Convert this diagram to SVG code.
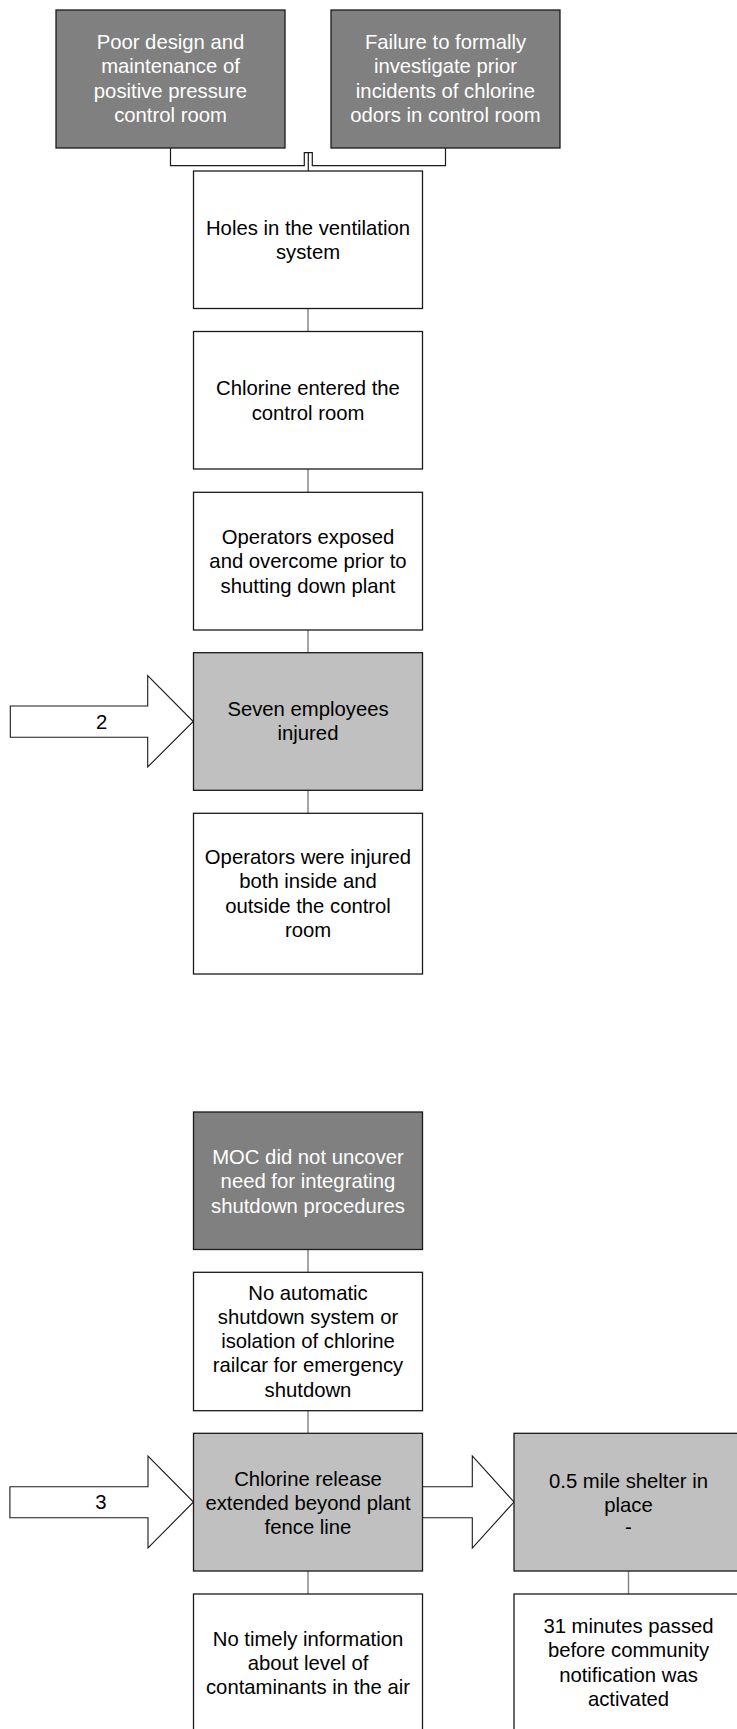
<svg xmlns="http://www.w3.org/2000/svg" width="737" height="1729" viewBox="0 0 737 1729">
<style>
.box{stroke:#1a1a1a;stroke-width:1.3}
.w{fill:#ffffff}
.d{fill:#808080}
.g{fill:#c0c0c0}
.t{font-family:"Liberation Sans",Arial,sans-serif;font-size:20.3px;text-anchor:middle;fill:#000}
.tw{fill:#ffffff}
.c{stroke:#808080;stroke-width:1.4;fill:none}
.ck{stroke:#1a1a1a;stroke-width:1.2;fill:none}
.arr{fill:#ffffff;stroke:#1a1a1a;stroke-width:1.1}
</style>
<rect width="737" height="1729" fill="#ffffff"/>
<g id="connectors">
<path class="ck" d="M170.5 148 V165.7 H304.3 V152.7 H312.3 V165.7 H445.5 V148"/>
<path class="ck" d="M308.3 152.7 V171"/>
<path class="c" d="M308 308.5 V331.5 M308 469 V492.3 M308 630 V652.7 M308 790.3 V813.3 M308 1249.5 V1272.3 M308 1410.7 V1433.3 M308 1571 V1594 M628.5 1571 V1594"/>
<polygon id="arrow2" class="arr" points="10.3,706 147.7,706 147.7,675.7 193.3,721.5 147.7,767 147.7,737.3 10.3,737.3"/>
<polygon id="arrow3" class="arr" points="9.9,1486.7 148,1486.7 148,1456 193.5,1502 148,1548 148,1517.7 9.9,1517.7"/>
<polygon id="arrowR" class="arr" points="422.5,1486.7 472.3,1486.7 472.3,1456 514,1502 472.3,1548 472.3,1517.7 422.5,1517.7"/>
<text class="t" x="101.7" y="728.5">2</text>
<text class="t" x="101" y="1509">3</text>
</g>
<g id="n1"><rect class="box d" x="56" y="10" width="229" height="138"/>
<text class="t tw" x="170.5"><tspan x="170.5" y="48.5">Poor design and</tspan><tspan x="170.5" y="73">maintenance of</tspan><tspan x="170.5" y="97.5">positive pressure</tspan><tspan x="170.5" y="122">control room</tspan></text></g>
<g id="n2"><rect class="box d" x="331" y="10" width="229" height="138"/>
<text class="t tw" x="445.5"><tspan x="445.5" y="48.5">Failure to formally</tspan><tspan x="445.5" y="73">investigate prior</tspan><tspan x="445.5" y="97.5">incidents of chlorine</tspan><tspan x="445.5" y="122">odors in control room</tspan></text></g>
<g id="n3"><rect class="box w" x="193.5" y="171" width="229" height="137.5"/>
<text class="t" x="308"><tspan x="308" y="234.5">Holes in the ventilation</tspan><tspan x="308" y="259">system</tspan></text></g>
<g id="n4"><rect class="box w" x="193.5" y="331.5" width="229" height="137.5"/>
<text class="t" x="308"><tspan x="308" y="395">Chlorine entered the</tspan><tspan x="308" y="419.5">control room</tspan></text></g>
<g id="n5"><rect class="box w" x="193.5" y="492.3" width="229" height="137.7"/>
<text class="t" x="308"><tspan x="308" y="543.5">Operators exposed</tspan><tspan x="308" y="568">and overcome prior to</tspan><tspan x="308" y="592.5">shutting down plant</tspan></text></g>
<g id="n6"><rect class="box g" x="193.5" y="652.7" width="229" height="137.6"/>
<text class="t" x="308"><tspan x="308" y="716">Seven employees</tspan><tspan x="308" y="740">injured</tspan></text></g>
<g id="n7"><rect class="box w" x="193.5" y="813.3" width="229" height="160.7"/>
<text class="t" x="308"><tspan x="308" y="864">Operators were injured</tspan><tspan x="308" y="888.3">both inside and</tspan><tspan x="308" y="912.6">outside the control</tspan><tspan x="308" y="937">room</tspan></text></g>
<g id="n8"><rect class="box d" x="193.5" y="1112" width="229" height="137.5"/>
<text class="t tw" x="308"><tspan x="308" y="1164">MOC did not uncover</tspan><tspan x="308" y="1188.3">need for integrating</tspan><tspan x="308" y="1212.6">shutdown procedures</tspan></text></g>
<g id="n9"><rect class="box w" x="193.5" y="1272.3" width="229" height="138.4"/>
<text class="t" x="308"><tspan x="308" y="1299.5">No automatic</tspan><tspan x="308" y="1323.8">shutdown system or</tspan><tspan x="308" y="1348.1">isolation of chlorine</tspan><tspan x="308" y="1372.4">railcar for emergency</tspan><tspan x="308" y="1396.7">shutdown</tspan></text></g>
<g id="n10"><rect class="box g" x="193.5" y="1433.3" width="229" height="137.7"/>
<text class="t" x="308"><tspan x="308" y="1485.5">Chlorine release</tspan><tspan x="308" y="1509.5">extended beyond plant</tspan><tspan x="308" y="1533.8">fence line</tspan></text></g>
<g id="n11"><rect class="box w" x="193.5" y="1594" width="229" height="140"/>
<text class="t" x="308"><tspan x="308" y="1645.8">No timely information</tspan><tspan x="308" y="1670">about level of</tspan><tspan x="308" y="1694.3">contaminants in the air</tspan></text></g>
<g id="n12"><rect class="box g" x="514" y="1433.3" width="229" height="137.7"/>
<text class="t" x="628.5"><tspan x="628.5" y="1488">0.5 mile shelter in</tspan><tspan x="628.5" y="1511.5">place</tspan><tspan x="628.5" y="1533.5">-</tspan></text></g>
<g id="n13"><rect class="box w" x="514" y="1594" width="229" height="140"/>
<text class="t" x="628.5"><tspan x="628.5" y="1633">31 minutes passed</tspan><tspan x="628.5" y="1657.3">before community</tspan><tspan x="628.5" y="1681.6">notification was</tspan><tspan x="628.5" y="1706">activated</tspan></text></g>
</svg>
